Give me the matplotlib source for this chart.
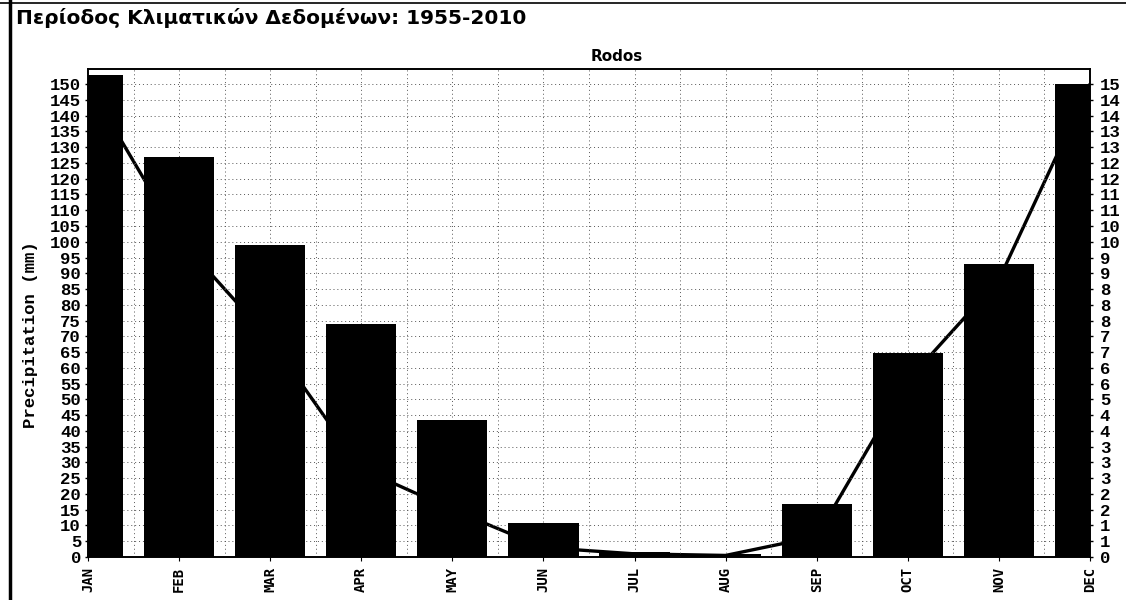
import numpy as np
import matplotlib.pyplot as plt
from matplotlib.lines import Line2D

# DATA
months = ["JAN", "FEB", "MAR", "APR", "MAY", "JUN",
          "JUL", "AUG", "SEP", "OCT", "NOV", "DEC"]
precip_mm = [153, 127, 99, 74, 43.6, 10.7, 1.6, 1.0, 16.7, 64.7, 93, 150]
rain_days = [15.0, 10.1, 6.9, 2.8, 1.5, 0.3, 0.1, 0.05, 0.65, 5.6, 8.8, 15.0]
left_ticks = list(range(0, 151, 5))
right_ticks = [t / 10 for t in left_ticks]
right_labels = ["0", "1", "1", "2", "2", "3", "3", "3", "4", "4", "5", "6", "6",
                "7", "7", "8", "8", "8", "9", "9", "10", "10", "11", "11",
                "12", "12", "13", "13", "14", "14", "15"]

TITLE = "Περίοδος Κλιματικών Δεδομένων: 1955-2010"
STATION = "Rodos"

fig = plt.figure(figsize=(11.26, 6.0), dpi=100)
ax = fig.add_axes([88 / 1126, 1 - 557 / 600, (1090 - 88) / 1126, (557 - 69) / 600])
ax2 = ax.twinx()

# rain-day line sits behind the bars
ax2.set_zorder(ax.get_zorder() - 1)
ax.patch.set_visible(False)
ax2.patch.set_facecolor("white")

x = np.arange(len(months))
ax2.plot(x, rain_days, color="black", lw=2.4, solid_capstyle="round")
ax.bar(x, precip_mm, width=0.77, color="black", zorder=3)

ax.set_xlim(0, 11)
ax.set_ylim(0, 154.8)
ax2.set_ylim(0, 15.48)

mono = "Liberation Mono"
ax.set_yticks(left_ticks)
ax.set_yticklabels([str(t) for t in left_ticks], family=mono, weight="bold", fontsize=12.5)
ax2.set_yticks(right_ticks)
ax2.set_yticklabels(right_labels, family=mono, weight="bold", fontsize=12.5)
ax.set_xticks(x)
ax.set_xticklabels(months, rotation=90, family="DejaVu Sans Mono", weight="bold", fontsize=10)
ax.set_xticks(np.arange(0.5, 11, 1), minor=True)

ax.tick_params(axis="y", length=2, width=1, pad=3)
ax2.tick_params(axis="y", length=2, width=1, pad=5)
ax.tick_params(axis="x", which="major", length=3, pad=4)
ax.tick_params(axis="x", which="minor", length=0)

# dotted grid
ax.grid(True, axis="y", which="major", color="#555555", lw=0.7, ls=(0, (1, 3)))
ax.grid(True, axis="x", which="both", color="#555555", lw=0.7, ls=(0, (1, 3)))
ax.set_axisbelow(True)

for a in (ax, ax2):
    for s in a.spines.values():
        s.set_color("black")
        s.set_linewidth(1.2)

ax.set_ylabel("Precipitation (mm)", family=mono, weight="bold", fontsize=12.5)
ax.yaxis.set_label_coords(-0.05, 0.455)
ax.set_title(STATION, fontsize=11, weight="bold", pad=6, x=0.528)

fig.text(16 / 1126, 1 - 18 / 600, TITLE, fontsize=14.5, weight="bold",
         family="DejaVu Sans", va="center", ha="left")

# page frame lines from the scan
fig.add_artist(Line2D([10 / 1126, 10 / 1126], [0, 1], color="black", lw=2.5))
fig.add_artist(Line2D([0, 1], [1 - 3 / 600, 1 - 3 / 600], color="black", lw=1.2))

fig.savefig("out.png", dpi=100, facecolor="white")
plt.close(fig)
